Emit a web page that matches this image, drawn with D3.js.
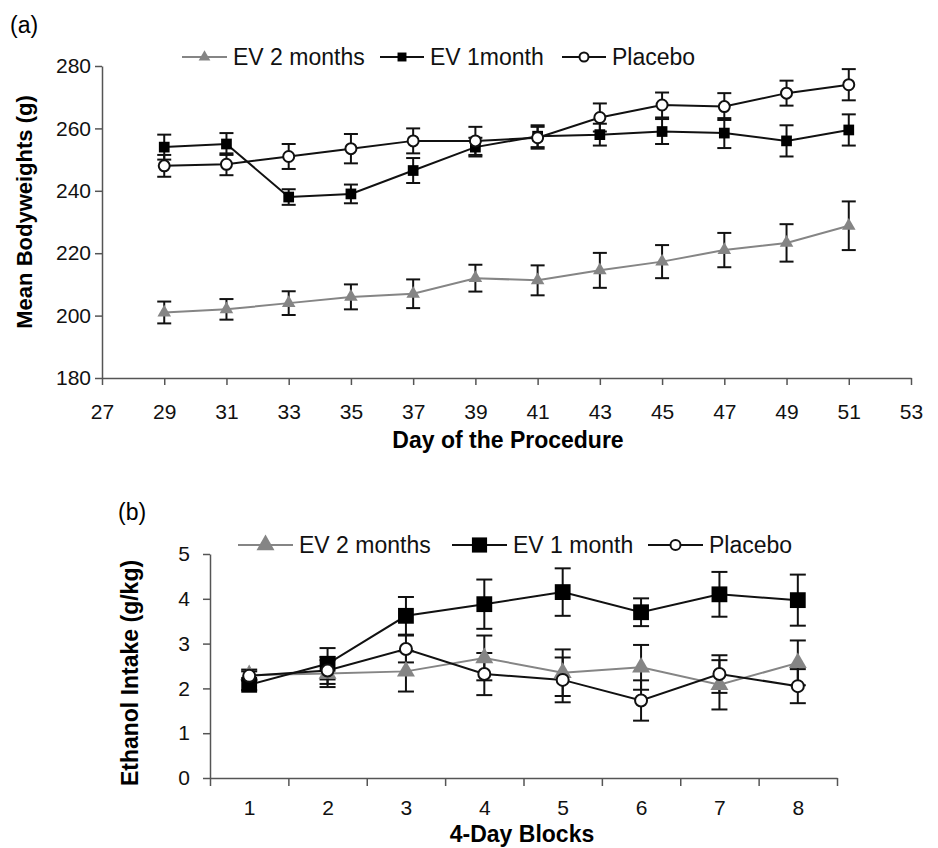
<!DOCTYPE html>
<html>
<head>
<meta charset="utf-8">
<script src="https://cdn.jsdelivr.net/npm/d3@7"></script>
<style>
  body { margin: 0; background: #fff; }
  svg { font-family: Arial, "Liberation Sans", sans-serif; }
  .axis path, .axis line { stroke: #555; stroke-width: 1.5px; }
  .axis text { fill: #111; font-size: 21px; }
</style>
</head>
<body>
<div id="chart"></div>
<script>
// panel (a) - body weights
var days = [29, 31, 33, 35, 37, 39, 41, 43, 45, 47, 49, 51];
var dayTicks = [27, 29, 31, 33, 35, 37, 39, 41, 43, 45, 47, 49, 51, 53];
var weightTicks = [180, 200, 220, 240, 260, 280];
var ev2Weight = [201, 202, 204, 206, 207, 212, 211.3, 214.5, 217.3, 221, 223.3, 228.8];
var ev2WeightErr = [3.5, 3.3, 3.8, 4, 4.6, 4.3, 4.8, 5.6, 5.3, 5.5, 6, 7.8];
var ev1Weight = [254, 255, 238, 239, 246.5, 254, 257.5, 258, 259, 258.5, 256, 259.5];
var ev1WeightErr = [4, 3.5, 2.5, 3, 4, 3, 3.5, 3.5, 4, 4.8, 5, 5];
var placeboWeight = [248, 248.5, 251, 253.5, 256, 256, 257, 263.5, 267.5, 267, 271.3, 274];
var placeboWeightErr = [3.5, 3.5, 4, 4.7, 4, 4.5, 3.5, 4.5, 4, 4.3, 4, 5];

// panel (b) - ethanol intake
var blocks = [1, 2, 3, 4, 5, 6, 7, 8];
var intakeTicks = [0, 1, 2, 3, 4, 5];
var ev2Intake = [2.3, 2.33, 2.38, 2.68, 2.35, 2.47, 2.08, 2.57];
var ev2IntakeErr = [0.12, 0.3, 0.45, 0.5, 0.52, 0.5, 0.55, 0.5];
var ev1Intake = [2.08, 2.55, 3.62, 3.88, 4.15, 3.7, 4.1, 3.97];
var ev1IntakeErr = [0.12, 0.35, 0.42, 0.55, 0.53, 0.31, 0.5, 0.57];
var placeboIntake = [2.28, 2.4, 2.88, 2.32, 2.19, 1.73, 2.32, 2.05];
var placeboIntakeErr = [0.1, 0.3, 0.3, 0.47, 0.5, 0.45, 0.42, 0.38];

var grey = '#858585';

var svg = d3.select('#chart')
    .append('svg')
        .attr('width', 938)
        .attr('height', 848);

function toRows(xs, ys, es) {
    return xs.map((x, i) => ({ x: x, y: ys[i], e: es[i] }));
}

function drawSeries(g, x, y, rows, opt) {
    var line = d3.line().x(d => x(d.x)).y(d => y(d.y));

    g.append('g').selectAll('g')
        .data(rows)
        .enter()
        .append('g')
            .each(function(d) {
                var el = d3.select(this);
                var cx = x(d.x);
                el.append('line')
                    .attr('x1', cx).attr('x2', cx)
                    .attr('y1', y(d.y + d.e)).attr('y2', y(d.y - d.e));
                el.append('line')
                    .attr('x1', cx - opt.cap).attr('x2', cx + opt.cap)
                    .attr('y1', y(d.y + d.e)).attr('y2', y(d.y + d.e));
                el.append('line')
                    .attr('x1', cx - opt.cap).attr('x2', cx + opt.cap)
                    .attr('y1', y(d.y - d.e)).attr('y2', y(d.y - d.e));
            })
            .attr('stroke', '#111')
            .attr('stroke-width', 2);

    g.append('path')
        .datum(rows)
        .attr('fill', 'none')
        .attr('stroke', opt.color)
        .attr('stroke-width', 2)
        .attr('d', line);
}

function drawMarkers(g, x, y, rows, opt) {
    rows.forEach(d => marker(g, x(d.x), y(d.y), opt));
}

function marker(g, cx, cy, opt) {
    if (opt.shape === 'circle') {
        g.append('circle')
            .attr('cx', cx).attr('cy', cy)
            .attr('r', opt.size)
            .attr('fill', '#fff')
            .attr('stroke', '#111')
            .attr('stroke-width', 2);
    } else {
        var sym = opt.shape === 'square' ? d3.symbolSquare : d3.symbolTriangle;
        g.append('path')
            .attr('transform', 'translate(' + cx + ',' + cy + ')')
            .attr('d', d3.symbol().type(sym).size(opt.size)())
            .attr('fill', opt.fill);
    }
}

function addLegend(g, items, ly, fontSize) {
    items.forEach(it => {
        g.append('line')
            .attr('x1', it.x1).attr('x2', it.x2)
            .attr('y1', ly).attr('y2', ly)
            .attr('stroke', it.opt.color)
            .attr('stroke-width', 2);
        marker(g, (it.x1 + it.x2) / 2, ly, it.opt);
        g.append('text')
            .attr('x', it.x2 + 6)
            .attr('y', ly + fontSize * 0.36)
            .attr('font-size', fontSize)
            .attr('fill', '#111')
            .text(it.label);
    });
}

// ---------- panel (a) ----------
var xa = d3.scaleLinear().domain([27, 53]).range([102, 911]);
var ya = d3.scaleLinear().domain([180, 280]).range([378, 66]);

var ga = svg.append('g');

ga.append('g')
    .attr('class', 'axis')
    .attr('transform', 'translate(0,378)')
    .call(d3.axisBottom(xa).tickValues(dayTicks).tickSize(7).tickSizeOuter(0).tickPadding(19));

ga.append('g')
    .attr('class', 'axis')
    .attr('transform', 'translate(102,0)')
    .call(d3.axisLeft(ya).tickValues(weightTicks).tickSize(7).tickSizeOuter(0).tickPadding(4));

var optA = {
    ev2: { shape: 'triangle', size: 80, fill: grey, color: grey, cap: 7 },
    ev1: { shape: 'square', size: 115, fill: '#000', color: '#111', cap: 7 },
    pl: { shape: 'circle', size: 5.5, color: '#111', cap: 7 }
};

var ev2A = toRows(days, ev2Weight, ev2WeightErr);
var ev1A = toRows(days, ev1Weight, ev1WeightErr);
var plA = toRows(days, placeboWeight, placeboWeightErr);

drawSeries(ga, xa, ya, ev2A, optA.ev2);
drawSeries(ga, xa, ya, ev1A, optA.ev1);
drawSeries(ga, xa, ya, plA, optA.pl);
drawMarkers(ga, xa, ya, ev2A, optA.ev2);
drawMarkers(ga, xa, ya, ev1A, optA.ev1);
drawMarkers(ga, xa, ya, plA, optA.pl);

addLegend(ga, [
    { label: 'EV 2 months', x1: 182, x2: 227, opt: { shape: 'triangle', size: 60, fill: grey, color: grey } },
    { label: 'EV 1month', x1: 380, x2: 424, opt: { shape: 'square', size: 80, fill: '#000', color: '#111' } },
    { label: 'Placebo', x1: 562, x2: 606, opt: { shape: 'circle', size: 4.5, color: '#111' } }
], 57, 23);

ga.append('text')
    .attr('x', 10).attr('y', 33)
    .attr('font-size', 23)
    .text('(a)');

ga.append('text')
    .attr('transform', 'translate(32,212) rotate(-90)')
    .attr('text-anchor', 'middle')
    .attr('font-size', 22)
    .attr('font-weight', 'bold')
    .text('Mean Bodyweights (g)');

ga.append('text')
    .attr('x', 508).attr('y', 448)
    .attr('text-anchor', 'middle')
    .attr('font-size', 23)
    .attr('font-weight', 'bold')
    .text('Day of the Procedure');

// ---------- panel (b) ----------
var xb = d3.scaleLinear().domain([0.5, 8.5]).range([210, 837]);
var yb = d3.scaleLinear().domain([0, 5]).range([778, 554]);
var bounds = blocks.map(b => b - 0.5).concat([8.5]);

var gb = svg.append('g');

gb.append('g')
    .attr('class', 'axis')
    .attr('transform', 'translate(0,778)')
    .call(d3.axisBottom(xb).tickValues(bounds).tickFormat('').tickSize(8).tickSizeOuter(0));

gb.append('g')
    .attr('class', 'axis')
    .attr('transform', 'translate(0,778)')
    .call(d3.axisBottom(xb).tickValues(blocks).tickFormat(d3.format('d')).tickSize(0).tickPadding(22))
    .call(g => g.select('.domain').remove());

gb.append('g')
    .attr('class', 'axis')
    .attr('transform', 'translate(210,0)')
    .call(d3.axisLeft(yb).tickValues(intakeTicks).tickFormat(d3.format('d')).tickSize(7).tickSizeOuter(0).tickPadding(13));

var optB = {
    ev2: { shape: 'triangle', size: 140, fill: grey, color: grey, cap: 8 },
    ev1: { shape: 'square', size: 250, fill: '#000', color: '#111', cap: 8 },
    pl: { shape: 'circle', size: 6, color: '#111', cap: 8 }
};

var ev2B = toRows(blocks, ev2Intake, ev2IntakeErr);
var ev1B = toRows(blocks, ev1Intake, ev1IntakeErr);
var plB = toRows(blocks, placeboIntake, placeboIntakeErr);

drawSeries(gb, xb, yb, ev2B, optB.ev2);
drawSeries(gb, xb, yb, ev1B, optB.ev1);
drawSeries(gb, xb, yb, plB, optB.pl);
drawMarkers(gb, xb, yb, ev2B, optB.ev2);
drawMarkers(gb, xb, yb, ev1B, optB.ev1);
drawMarkers(gb, xb, yb, plB, optB.pl);

addLegend(gb, [
    { label: 'EV 2 months', x1: 238, x2: 293, opt: { shape: 'triangle', size: 140, fill: grey, color: grey } },
    { label: 'EV 1 month', x1: 452, x2: 507, opt: { shape: 'square', size: 230, fill: '#000', color: '#111' } },
    { label: 'Placebo', x1: 648, x2: 703, opt: { shape: 'circle', size: 5, color: '#111' } }
], 545, 23);

gb.append('text')
    .attr('x', 118).attr('y', 520)
    .attr('font-size', 23)
    .text('(b)');

gb.append('text')
    .attr('transform', 'translate(138,673) rotate(-90)')
    .attr('text-anchor', 'middle')
    .attr('font-size', 23)
    .attr('font-weight', 'bold')
    .text('Ethanol Intake (g/kg)');

gb.append('text')
    .attr('x', 522).attr('y', 842)
    .attr('text-anchor', 'middle')
    .attr('font-size', 23)
    .attr('font-weight', 'bold')
    .text('4-Day Blocks');
</script>
</body>
</html>
